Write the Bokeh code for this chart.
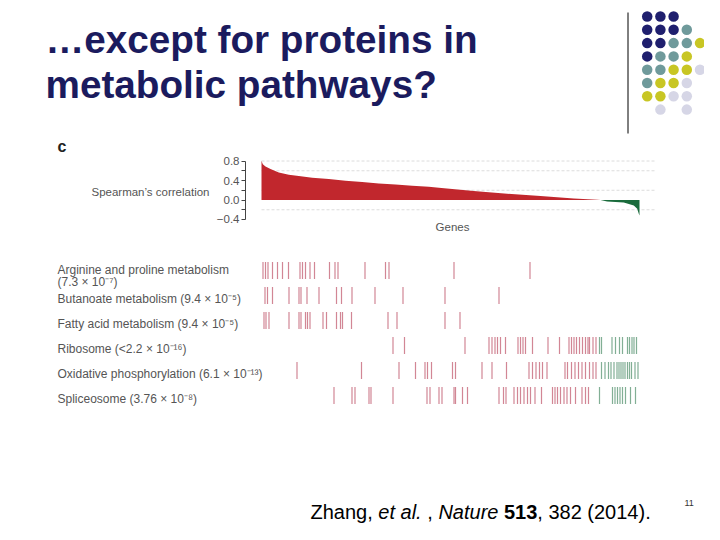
from bokeh.plotting import figure
from bokeh.layouts import column, row
from bokeh.models import Range1d, FixedTicker, CustomJSTickFormatter
from bokeh.core.properties import value
from bokeh.embed import file_html
from bokeh.resources import INLINE

# ---------------- data ----------------
TITLE_LINES = ["…except for proteins in", "metabolic pathways?"]
PANEL_LABEL = "c"
Y_LABEL = "Spearman’s correlation"
X_LABEL = "Genes"
Y_TICKS = [-0.4, 0.0, 0.4, 0.8]
Y_MINOR_TICKS = [-0.2, 0.2, 0.6]
GRID_LEVELS = [0.8, 0.6, 0.2, -0.2]

# genes ranked by mRNA-protein Spearman correlation
gene_rank = [0, 13, 40, 90, 173, 273, 373, 507, 673, 840, 1007, 1173, 1340, 1507,
             1673, 1800, 2123, 2457, 2790, 3123, 3357, 3390, 3457, 3623, 3723, 3757,
             3773, 3780]
spearman = [0.806, 0.736, 0.689, 0.634, 0.566, 0.519, 0.490, 0.457, 0.429, 0.396,
            0.367, 0.341, 0.320, 0.293, 0.273, 0.248, 0.183, 0.129, 0.080, 0.033,
            0.006, 0.0, -0.029, -0.049, -0.111, -0.178, -0.281, -0.316]

PATHWAYS = ["Arginine and proline metabolism", "Butanoate metabolism",
            "Fatty acid metabolism", "Ribosome", "Oxidative phosphorylation",
            "Spliceosome"]
P_VALUES = ["(7.3 × 10⁻⁷)", "(9.4 × 10⁻⁵)", "(9.4 × 10⁻⁵)", "(<2.2 × 10⁻¹⁶)",
            "(6.1 × 10⁻¹³)", "(3.76 × 10⁻⁸)"]

arginine_ranks = [15, 40, 65, 110, 160, 210, 270, 385, 410, 440, 485, 530, 680, 735,
                  765, 1035, 1240, 1275, 1925, 2685]
butanoate_ranks = [35, 60, 110, 275, 375, 395, 455, 575, 750, 800, 905, 1135, 1415,
                   1835, 2375]
fatty_acid_ranks = [25, 45, 75, 275, 375, 395, 440, 460, 485, 615, 650, 750, 790, 810,
                    900, 1265, 1355, 1835, 1985]
ribosome_ranks = [1315, 1430, 2035, 2275, 2305, 2335, 2360, 2390, 2440, 2565, 2590,
                  2615, 2640, 2710, 2865, 2980, 3075, 3100, 3125, 3150, 3180, 3210,
                  3240, 3265, 3280, 3315, 3345, 3380, 3400, 3505, 3540, 3580, 3610,
                  3660, 3680, 3705, 3725, 3750]
oxphos_ranks = [355, 1000, 1375, 1540, 1635, 1660, 1700, 1910, 1940, 2205, 2305, 2450,
                2675, 2710, 2745, 2780, 2810, 2855, 3035, 3060, 3100, 3135, 3170, 3205,
                3240, 3280, 3315, 3345, 3400, 3435, 3470, 3495, 3525, 3555, 3575, 3595,
                3615, 3635, 3660, 3680, 3700, 3735, 3765]
spliceosome_ranks = [725, 905, 935, 1075, 1095, 1315, 1655, 1685, 1775, 1805, 1925,
                     1940, 2010, 2060, 2375, 2420, 2445, 2525, 2560, 2590, 2625, 2660,
                     2690, 2735, 2800, 2910, 2935, 2960, 2990, 3025, 3055, 3090, 3140,
                     3205, 3240, 3270, 3380, 3510, 3535, 3560, 3585, 3610, 3640, 3690,
                     3740]
PATHWAY_RANKS = [arginine_ranks, butanoate_ranks, fatty_acid_ranks, ribosome_ranks,
                 oxphos_ranks, spliceosome_ranks]
ZERO_CROSS_RANK = 3370

# decorative dot grid (row, column, tone)
DOT_ROW = [0, 0, 0, 1, 1, 1, 1, 2, 2, 2, 2, 2, 3, 3, 3, 3, 4, 4, 4, 4, 4,
           5, 5, 5, 5, 6, 6, 6, 6, 7, 7]
DOT_COL = [0, 1, 2, 0, 1, 2, 3, 0, 1, 2, 3, 4, 0, 1, 2, 3, 0, 1, 2, 3, 4,
           0, 1, 2, 3, 0, 1, 2, 3, 1, 3]
DOT_TONE = ["N", "N", "N", "N", "N", "N", "T", "N", "N", "T", "T", "Y",
            "N", "T", "T", "Y", "T", "T", "Y", "Y", "L", "T", "Y", "Y", "L",
            "Y", "Y", "L", "L", "L", "L"]

CITATION = [("Zhang,", "normal"), ("et al.", "italic"), (",", "normal"),
            ("Nature", "italic"), ("513", "bold"), (", 382 (2014).", "normal")]
PAGE_NUMBER = "11"

# ---------------- styling ----------------
FONT = value("Liberation Sans")
TITLE_COLOR = "#1b1b5e"
TEXT_GRAY = "#555555"
RED_AREA = "#c1272d"
GREEN_AREA = "#1a6b3c"
TONES = {"N": "#1f1f6e", "T": "#6f9a9b", "Y": "#c8c624", "L": "#d6d6e6"}


def blank(width, height, xr, yr):
    p = figure(width=width, height=height, x_range=xr, y_range=yr,
               output_backend="svg", toolbar_location=None, tools="",
               min_border=0, x_axis_location=None, y_axis_location=None)
    p.xgrid.visible = False
    p.ygrid.visible = False
    p.outline_line_color = None
    p.background_fill_color = "white"
    p.border_fill_color = "white"
    return p


# ---- header (slide pixel coordinates, y downward) ----
header = blank(704, 138, Range1d(0, 704), Range1d(138, 0))
header.text(x=[45, 45], y=[38.8, 83.8], text=TITLE_LINES, text_font=FONT,
            text_font_style="bold", text_font_size="38.7px", text_color=TITLE_COLOR,
            text_baseline="middle", text_align="left")
header.segment(x0=[627.5], y0=[12], x1=[627.5], y1=[133], line_color="black",
               line_width=1)
dot_x = [646.7 + 13.2 * c for c in DOT_COL]
dot_y = [16 + 13.3 * r for r in DOT_ROW]
header.scatter(x=dot_x, y=dot_y, size=10.5, marker="circle",
               fill_color=[TONES[t] for t in DOT_TONE], line_color=None)

# ---- chart row ----
label_fig = blank(213, 104, Range1d(0, 213), Range1d(242, 138))
label_fig.text(x=[57], y=[146], text=[PANEL_LABEL], text_font=FONT,
               text_font_style="bold", text_font_size="16px", text_color="#222222",
               text_baseline="middle", text_align="left")
label_fig.text(x=[209], y=[191], text=[Y_LABEL], text_font=FONT,
               text_font_size="11.5px", text_color=TEXT_GRAY,
               text_baseline="middle", text_align="right")

chart = figure(width=491, height=104, x_range=Range1d(-160, 4430),
               y_range=Range1d(-0.872, 1.262), output_backend="svg",
               toolbar_location=None, tools="", min_border_left=32,
               min_border_right=0, min_border_top=0, min_border_bottom=0,
               x_axis_location=None)
chart.outline_line_color = None
chart.xgrid.visible = False
chart.ygrid.visible = False
chart.border_fill_color = "white"
ax = chart.yaxis[0]
ax.ticker = FixedTicker(ticks=Y_TICKS, minor_ticks=Y_MINOR_TICKS)
ax.bounds = (-0.4, 0.8)
ax.formatter = CustomJSTickFormatter(
    code="return (tick < -1e-9 ? '\\u2212' : '') + Math.abs(tick).toFixed(1);")
ax.axis_line_color = "#444444"
ax.major_tick_line_color = "#444444"
ax.minor_tick_line_color = "#444444"
ax.major_tick_in = 0
ax.major_tick_out = 4
ax.minor_tick_in = 0
ax.minor_tick_out = 4
ax.major_label_standoff = 2
ax.major_label_text_font = "Liberation Sans"
ax.major_label_text_font_size = "11.5px"
ax.major_label_text_color = TEXT_GRAY

chart.segment(x0=0, x1=3950, y0=GRID_LEVELS, y1=GRID_LEVELS, line_color="#dcdcdc",
              line_width=1, line_dash="3 2")
pos_x = [r for r, c in zip(gene_rank, spearman) if c >= 0]
pos_y = [c for c in spearman if c >= 0]
neg_x = [r for r, c in zip(gene_rank, spearman) if c <= 0]
neg_y = [c for c in spearman if c <= 0]
chart.varea(x=pos_x, y1=0, y2=pos_y, fill_color=RED_AREA)
chart.varea(x=neg_x, y1=0, y2=neg_y, fill_color=GREEN_AREA)
chart.text(x=[1910], y=[-0.562], text=[X_LABEL], text_font=FONT,
           text_font_size="11.5px", text_color=TEXT_GRAY,
           text_baseline="middle", text_align="center")

# ---- barcode rows (x: gene rank, y: row index) ----
bars = blank(704, 178, Range1d(-2610, 4430), Range1d(6.0, -1.12))
bx, by0, by1, bcol = [], [], [], []
for i, ranks in enumerate(PATHWAY_RANKS):
    for r in ranks:
        bx.append(r)
        by0.append(i - 0.34)
        by1.append(i + 0.34)
        bcol.append("#b4364f" if r < ZERO_CROSS_RANK else "#2e7a4e")
bars.segment(x0=bx, x1=bx, y0=by0, y1=by1, line_color=bcol, line_alpha=0.6,
             line_width=1.2)

lab_text, lab_y = [], []
for i, (name, pv) in enumerate(zip(PATHWAYS, P_VALUES)):
    if i == 0:
        lab_text += [name, pv]
        lab_y += [i - 0.04, i + 0.47]
    else:
        lab_text.append(name + " " + pv)
        lab_y.append(i + 0.13)
bars.text(x=[-2040] * len(lab_text), y=lab_y, text=lab_text, text_font=FONT,
          text_font_size="12px", text_color=TEXT_GRAY, text_baseline="middle",
          text_align="left")

# ---- footer (slide pixel coordinates) ----
footer = blank(704, 104, Range1d(0, 704), Range1d(524, 420))
cit_x = [310, 377.8, 426.8, 437.9, 503.5, 536.8]
for (seg, style), x0 in zip(CITATION, cit_x):
    footer.text(x=[x0], y=[511.5], text=[seg], text_font=FONT, text_font_style=style,
                text_font_size="20px", text_color="black",
                text_baseline="middle", text_align="left")
footer.text(x=[684], y=[502], text=[PAGE_NUMBER], text_font=FONT,
            text_font_size="9px", text_color="#333333", text_baseline="middle",
            text_align="left")

layout = column(header, row(label_fig, chart), bars, footer)
open("out.html", "w").write(file_html(layout, INLINE))
